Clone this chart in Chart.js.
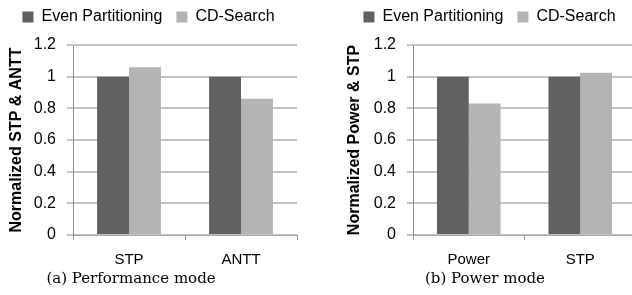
<!DOCTYPE html>
<html><head><meta charset="utf-8">
<script src="https://cdn.jsdelivr.net/npm/chart.js@4"></script>
<style>
html,body{margin:0;padding:0;width:632px;height:295px;overflow:hidden;background:#fff;}
.wrap{position:absolute;top:0;height:270px;}
#w1{left:0;width:316px;}
#w2{left:316px;width:320px;}
.cap{position:absolute;top:269px;font:15px/18px "DejaVu Serif";color:#000;white-space:nowrap;transform:translateX(-50%);}
</style></head><body>
<div class="wrap" id="w1"><canvas id="c1" width="316" height="270"></canvas></div>
<div class="wrap" id="w2"><canvas id="c2" width="320" height="270"></canvas></div>
<div class="cap" style="left:131px">(a) Performance mode</div>
<div class="cap" style="left:485px">(b) Power mode</div>
<script>
const seriesNames = ['Even Partitioning', 'CD-Search'];
const perfCategories = ['STP', 'ANTT'];
const perfEven = [1, 1];
const perfCD = [1.06, 0.86];
const powerCategories = ['Power', 'STP'];
const powerEven = [1, 1];
const powerCD = [0.83, 1.025];
const yMin = 0, yMax = 1.2, yStep = 0.2;
const yTitles = ['Normalized STP & ANTT', 'Normalized Power & STP'];

const DARK = '#616161', LIGHT = '#b3b3b3';
const SANS = '"Liberation Sans", Arial, sans-serif';

function legendFix(h, dy) {
  return {
    id: 'legendFix',
    beforeLayout(chart) {
      const lg = chart.legend;
      if (!lg || lg._fixed) return;
      lg._fixed = true;
      const fit = lg.fit;
      lg.fit = function () { fit.call(this); this.height = h; };
      const draw = lg.draw;
      lg.draw = function () {
        const ctx = this.ctx; ctx.save(); ctx.translate(0, dy); draw.call(this); ctx.restore();
      };
    }
  };
}

function makeChart(id, cats, even, cd, title, cfg) {
  return new Chart(document.getElementById(id), {
    type: 'bar',
    data: {
      labels: cats,
      datasets: [
        { label: seriesNames[0], data: even, backgroundColor: DARK, borderWidth: 0 },
        { label: seriesNames[1], data: cd, backgroundColor: LIGHT, borderWidth: 0 }
      ]
    },
    options: {
      responsive: false,
      animation: false,
      devicePixelRatio: 1,
      layout: { padding: { left: cfg.padLeft, right: cfg.padRight, top: 0, bottom: 0 } },
      datasets: { bar: { barPercentage: 1, categoryPercentage: 0.57 } },
      plugins: {
        tooltip: { enabled: false },
        legend: {
          position: 'top',
          labels: {
            boxWidth: 11, boxHeight: 11, padding: 14, color: '#000',
            font: { family: SANS, size: 16 }
          }
        }
      },
      scales: {
        x: {
          offset: true,
          grid: { offset: true, drawOnChartArea: false, drawTicks: true, tickLength: 5, color: '#999', lineWidth: 1 },
          border: { color: '#a6a6a6', width: 1 },
          ticks: { color: '#000', font: { family: SANS, size: 15 }, padding: 11, maxRotation: 0 },
          afterFit(s) { s.height = 35; }
        },
        y: {
          min: yMin, max: yMax,
          ticks: {
            stepSize: yStep, color: '#000', font: { family: SANS, size: 16 }, padding: 11,
            callback: v => String(Number(v.toFixed(1)))
          },
          grid: { color: '#c4c4c4', lineWidth: 2, tickLength: 6, drawTicks: true },
          border: { color: '#8c8c8c', width: 1 },
          title: { display: true, text: title, color: '#000', font: { family: SANS, size: 16, weight: 'bold' }, padding: { top: cfg.titlePad, bottom: 0 } },
          afterFit(s) { s.width = cfg.yWidth; }
        }
      }
    },
    plugins: [legendFix(45, -5)]
  });
}

makeChart('c1', perfCategories, perfEven, perfCD, yTitles[0], { padLeft: 0, padRight: 19, yWidth: 73, titlePad: 7 });
makeChart('c2', powerCategories, powerEven, powerCD, yTitles[1], { padLeft: 27, padRight: 0, yWidth: 70, titlePad: 2.4 });
</script>
</body></html>
